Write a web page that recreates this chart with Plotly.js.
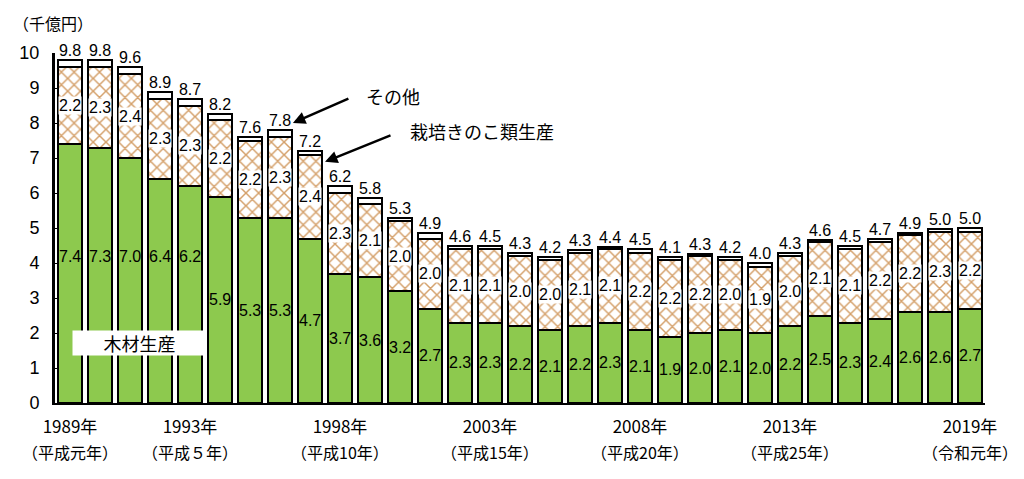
<!DOCTYPE html>
<html><head><meta charset="utf-8">
<script src="https://cdn.plot.ly/plotly-3.0.1.min.js"></script>
<style>html,body{margin:0;padding:0;background:#fff;}#chart{width:1024px;height:479px;}</style>
</head><body><div id="chart"></div>
<script>
const years = [1989,1990,1991,1992,1993,1994,1995,1996,1997,1998,1999,2000,2001,2002,2003,2004,2005,2006,2007,2008,2009,2010,2011,2012,2013,2014,2015,2016,2017,2018,2019];
const timber = [7.4,7.3,7.0,6.4,6.2,5.9,5.3,5.3,4.7,3.7,3.6,3.2,2.7,2.3,2.3,2.2,2.1,2.2,2.3,2.1,1.9,2.0,2.1,2.0,2.2,2.5,2.3,2.4,2.6,2.6,2.7];
const mushroom = [2.2,2.3,2.4,2.3,2.3,2.2,2.2,2.3,2.4,2.3,2.1,2.0,2.0,2.1,2.1,2.0,2.0,2.1,2.1,2.2,2.2,2.2,2.0,1.9,2.0,2.1,2.1,2.2,2.2,2.3,2.2];
const other = [0.2,0.2,0.2,0.2,0.2,0.15,0.1,0.2,0.1,0.2,0.15,0.1,0.15,0.1,0.1,0.1,0.08,0.06,0.06,0.1,0.06,0.06,0.08,0.1,0.1,0.06,0.1,0.1,0.06,0.06,0.1];
const totals = [9.8,9.8,9.6,8.9,8.7,8.2,7.6,7.8,7.2,6.2,5.8,5.3,4.9,4.6,4.5,4.3,4.2,4.3,4.4,4.5,4.1,4.3,4.2,4.0,4.3,4.6,4.5,4.7,4.9,5.0,5.0];
const tickYears = [1989,1993,1998,2003,2008,2013,2019];
const tickLabels = ["1989年","1993年","1998年","2003年","2008年","2013年","2019年"];
const eraLabels = ["（平成元年）","（平成５年）","（平成10年）","（平成15年）","（平成20年）","（平成25年）","（令和元年）"];
const seriesNames = ["木材生産","栽培きのこ類生産","その他"];

const FONT = "Liberation Sans, Arial, Noto Sans CJK JP, sans-serif";
const JFONT = "Noto Sans CJK JP, sans-serif";
const lineStyle = {color:"#000", width:2};

const traces = [
  {type:"bar", x:years, y:timber, name:seriesNames[0], marker:{color:"#8dc94e", line:lineStyle}, hoverinfo:"skip"},
  {type:"bar", x:years, y:mushroom, name:seriesNames[1], marker:{color:"#ffffff", line:lineStyle, pattern:{shape:"x", fgcolor:"#d4a06a", bgcolor:"#ffffff", size:9, solidity:0.3}}, hoverinfo:"skip"},
  {type:"bar", x:years, y:other, name:seriesNames[2], marker:{color:"#ffffff", line:lineStyle}, hoverinfo:"skip"},
  {type:"scatter", mode:"text", x:years, y:totals.map((t,i)=>timber[i]+mushroom[i]+other[i]), text:totals.map(v=>v.toFixed(1)), textposition:"top center", textfont:{family:FONT, size:16, color:"#000"}, cliponaxis:false, hoverinfo:"skip", showlegend:false}
];

const annotations = [];
years.forEach((yr,i)=>{
  annotations.push({x:yr, y:(i<5?4.2:timber[i]/2), text:timber[i].toFixed(1), showarrow:false, font:{family:FONT,size:16,color:"#000"}});
  annotations.push({x:yr, y:timber[i]+mushroom[i]/2, text:mushroom[i].toFixed(1), showarrow:false, bgcolor:"#fff", borderpad:0, font:{family:FONT,size:16,color:"#000"}});
});
tickYears.forEach((yr,i)=>{
  annotations.push({x:yr, y:0, yanchor:"middle", yshift:-49, text:eraLabels[i], showarrow:false, font:{family:JFONT,size:16,color:"#000"}});
});
annotations.push({xref:"paper", yref:"paper", x:-0.047, y:1.085, xanchor:"left", yanchor:"middle", text:"（千億円）", showarrow:false, font:{family:JFONT,size:16,color:"#000"}});
annotations.push({x:1991.33, y:1.71, text:"木材生産", showarrow:false, bgcolor:"#fff", width:131, height:22, font:{family:JFONT,size:18,color:"#000"}});
// labels and arrows
annotations.push({x:1996.43, y:8.0, ax:57, ay:-25, text:"", showarrow:true, arrowhead:2, arrowsize:1, arrowwidth:2.5, arrowcolor:"#000", standoff:0});
annotations.push({x:1996.43, y:8.0, text:"その他", showarrow:false, xshift:100, yshift:27, font:{family:JFONT,size:18,color:"#000"}});
annotations.push({x:1997.5, y:6.89, ax:67, ay:-27, text:"", showarrow:true, arrowhead:2, arrowsize:1, arrowwidth:2.5, arrowcolor:"#000", standoff:0});
annotations.push({x:1997.5, y:6.89, text:"栽培きのこ類生産", showarrow:false, xshift:157, yshift:31, font:{family:JFONT,size:18,color:"#000"}});

const layout = {
  width:1024, height:479,
  margin:{l:55, r:39, t:53, b:76},
  barmode:"stack", bargap:0.17,
  showlegend:false,
  paper_bgcolor:"#fff", plot_bgcolor:"#fff",
  xaxis:{range:[1988.5,2019.5], tickvals:tickYears, ticktext:tickLabels, showline:true, linecolor:"#000", linewidth:2, ticks:"", showgrid:false, zeroline:false, tickfont:{family:JFONT,size:17,color:"#000"}, ticklabelstandoff:8, fixedrange:true},
  yaxis:{range:[0,10], dtick:1, showline:true, linecolor:"#000", linewidth:3, ticks:"inside", ticklen:4, tickcolor:"#000", showgrid:false, zeroline:false, tickfont:{family:FONT,size:18,color:"#000"}, ticklabelstandoff:9, fixedrange:true},
  annotations:annotations,
  font:{family:FONT}
};
Plotly.newPlot("chart", traces, layout, {displayModeBar:false, staticPlot:true});
</script>
</body></html>
